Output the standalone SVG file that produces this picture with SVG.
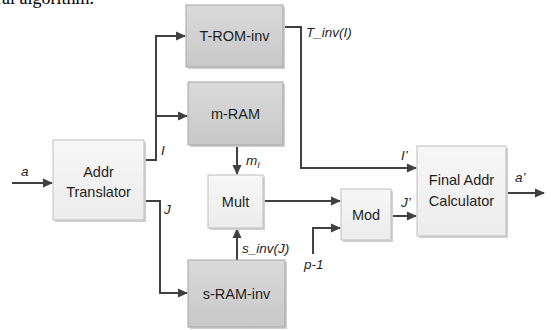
<svg xmlns="http://www.w3.org/2000/svg" width="551" height="330" viewBox="0 0 551 330">
<style>
.lbl{font-family:"Liberation Sans",Arial,sans-serif;font-size:14.5px;fill:#1f1f1f;text-anchor:middle}
.it{font-family:"Liberation Sans",Arial,sans-serif;font-size:13.5px;font-style:italic;fill:#1f1f1f}
.dark{fill:url(#gDark);stroke:#a6a6a6;stroke-width:1}
.light{fill:url(#gLight);stroke:#bfbfbf;stroke-width:1}
.sh{fill:#d0d0d0}
.c{fill:none;stroke:#404040;stroke-width:2}
</style>
<defs>
<linearGradient id="gDark" x1="0" y1="0" x2="0" y2="1"><stop offset="0" stop-color="#dadada"/><stop offset="1" stop-color="#c8c8c8"/></linearGradient>
<linearGradient id="gLight" x1="0" y1="0" x2="0" y2="1"><stop offset="0" stop-color="#f7f7f7"/><stop offset="1" stop-color="#ececec"/></linearGradient>
<marker id="ah" markerWidth="10" markerHeight="10" refX="9" refY="5" orient="auto" markerUnits="userSpaceOnUse"><path d="M0,0.5 L10,5 L0,9.5 z" fill="#404040"/></marker>
</defs>
<rect width="551" height="330" fill="#ffffff"/>
<text x="-4" y="4" font-family="Liberation Serif, serif" font-size="18" fill="#000">ral algorithm.</text>

<g id="connectors">
<path class="c" d="M12,183 H52" marker-end="url(#ah)"/>
<path class="c" d="M144,160 H156 V36 H185" marker-end="url(#ah)"/>
<path class="c" d="M156,116 H187" marker-end="url(#ah)"/>
<path class="c" d="M144,201 H160 V293 H187" marker-end="url(#ah)"/>
<path class="c" d="M237,145 V174" marker-end="url(#ah)"/>
<path class="c" d="M237,260 V229" marker-end="url(#ah)"/>
<path class="c" d="M283,27 H301 V168 H416" marker-end="url(#ah)"/>
<path class="c" d="M264,201 H340" marker-end="url(#ah)"/>
<path class="c" d="M313,254 V228 H340" marker-end="url(#ah)"/>
<path class="c" d="M391,216 H416" marker-end="url(#ah)"/>
<path class="c" d="M506,193 H544" marker-end="url(#ah)"/>
<text class="it" x="21" y="176">a</text>
<text class="it" x="161" y="155">I</text>
<text class="it" x="164" y="214">J</text>
<text class="it" x="246" y="165">m<tspan font-size="9" dy="3">I</tspan></text>
<text class="it" x="242" y="253">s_inv(J)</text>
<text class="it" x="306" y="37">T_inv(I)</text>
<text class="it" x="401" y="160">I’</text>
<text class="it" x="401" y="207">J’</text>
<text class="it" x="304" y="269">p-1</text>
<text class="it" x="515" y="182">a’</text>
</g>

<g id="t-rom-inv">
<rect class="sh" x="188" y="7" width="97" height="62"/>
<rect class="dark" x="186" y="5" width="97" height="62"/>
<text class="lbl" x="234.5" y="41">T-ROM-inv</text>
</g>
<g id="m-ram">
<rect class="sh" x="190" y="84" width="95" height="63"/>
<rect class="dark" x="188" y="82" width="95" height="63"/>
<text class="lbl" x="235.5" y="119">m-RAM</text>
</g>
<g id="addr-translator">
<rect class="sh" x="55" y="142" width="91" height="80"/>
<rect class="light" x="53" y="140" width="91" height="80"/>
<text class="lbl" x="98.5" y="177">Addr</text>
<text class="lbl" x="98.5" y="197">Translator</text>
</g>
<g id="mult">
<rect class="sh" x="210" y="177" width="55" height="53"/>
<rect class="light" x="208" y="175" width="55" height="53"/>
<text class="lbl" x="235.5" y="207">Mult</text>
</g>
<g id="s-ram-inv">
<rect class="sh" x="190" y="262" width="97" height="67"/>
<rect class="dark" x="188" y="260" width="97" height="67"/>
<text class="lbl" x="236.5" y="299">s-RAM-inv</text>
</g>
<g id="mod">
<rect class="sh" x="343" y="191" width="50" height="51"/>
<rect class="light" x="341" y="189" width="50" height="51"/>
<text class="lbl" x="366" y="220">Mod</text>
</g>
<g id="final-addr-calculator">
<rect class="sh" x="419" y="148" width="89" height="90"/>
<rect class="light" x="417" y="146" width="89" height="90"/>
<text class="lbl" x="461.5" y="185">Final Addr</text>
<text class="lbl" x="461.5" y="206">Calculator</text>
</g>
</svg>
